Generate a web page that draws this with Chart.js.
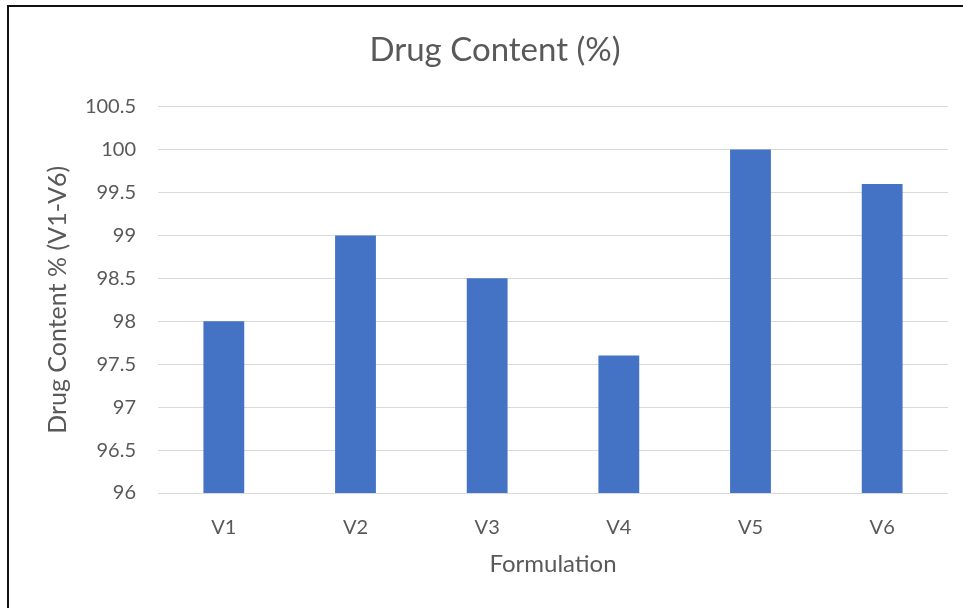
<!DOCTYPE html>
<html>
<head>
<meta charset="utf-8">
<script src="https://cdn.jsdelivr.net/npm/chart.js@4/dist/chart.umd.min.js"></script>
<style>
  html, body { margin: 0; padding: 0; background: #ffffff; }
  #wrap { position: relative; width: 963px; height: 608px; overflow: hidden; }
  #frame { position: absolute; left: 7px; top: 5px; right: -10px; bottom: -10px;
           border-top: 2px solid #111; border-left: 2px solid #111; pointer-events: none; }
</style>
</head>
<body>
<div id="wrap">
  <canvas id="c" width="963" height="608"></canvas>
  <div id="frame"></div>
</div>
<script>
const categories = ["V1", "V2", "V3", "V4", "V5", "V6"];
const drugContent = [98, 99, 98.5, 97.6, 100, 99.6];
const yTicks = [96, 96.5, 97, 97.5, 98, 98.5, 99, 99.5, 100, 100.5];
const chartTitle = "Drug Content (%)";
const xTitle = "Formulation";
const yTitle = "Drug Content % (V1-V6)";

const FONT = "Lato, 'Open Sans', sans-serif";
const TEXT = "#595959";

new Chart(document.getElementById("c"), {
  type: "bar",
  data: {
    labels: categories,
    datasets: [{
      data: drugContent,
      backgroundColor: "#4472C4",
      borderWidth: 0,
      categoryPercentage: 1,
      barPercentage: 0.31
    }]
  },
  options: {
    responsive: false,
    animation: false,
    layout: { padding: { left: 42, right: 15, top: 0, bottom: 0 } },
    plugins: {
      legend: { display: false },
      tooltip: { enabled: false },
      title: {
        display: true,
        text: chartTitle,
        color: TEXT,
        font: { family: FONT, size: 33, weight: "normal", lineHeight: 1.2 },
        padding: { top: 31, bottom: 36 }
      }
    },
    scales: {
      x: {
        grid: { display: false, drawTicks: false },
        border: { display: false },
        ticks: { color: TEXT, font: { family: FONT, size: 20 }, padding: 23 },
        title: {
          display: true, text: xTitle, color: TEXT,
          font: { family: FONT, size: 24, lineHeight: 1.2 },
          padding: { top: 0, bottom: 29 }
        },
        afterFit: (s) => { s.height = 115; }
      },
      y: {
        min: 96, max: 100.5,
        afterBuildTicks: (s) => { s.ticks = yTicks.map(v => ({ value: v })); },
        grid: { color: "#d9d9d9", lineWidth: 1, drawTicks: false },
        border: { display: false },
        ticks: {
          color: TEXT, font: { family: FONT, size: 20 }, padding: 22,
          callback: (v) => String(v)
        },
        title: {
          display: true, text: yTitle, color: TEXT,
          font: { family: FONT, size: 25, lineHeight: 1.2 },
          padding: { top: 1, bottom: 0 }
        },
        afterFit: (s) => { s.width = 116; }
      }
    }
  }
});
</script>
</body>
</html>
